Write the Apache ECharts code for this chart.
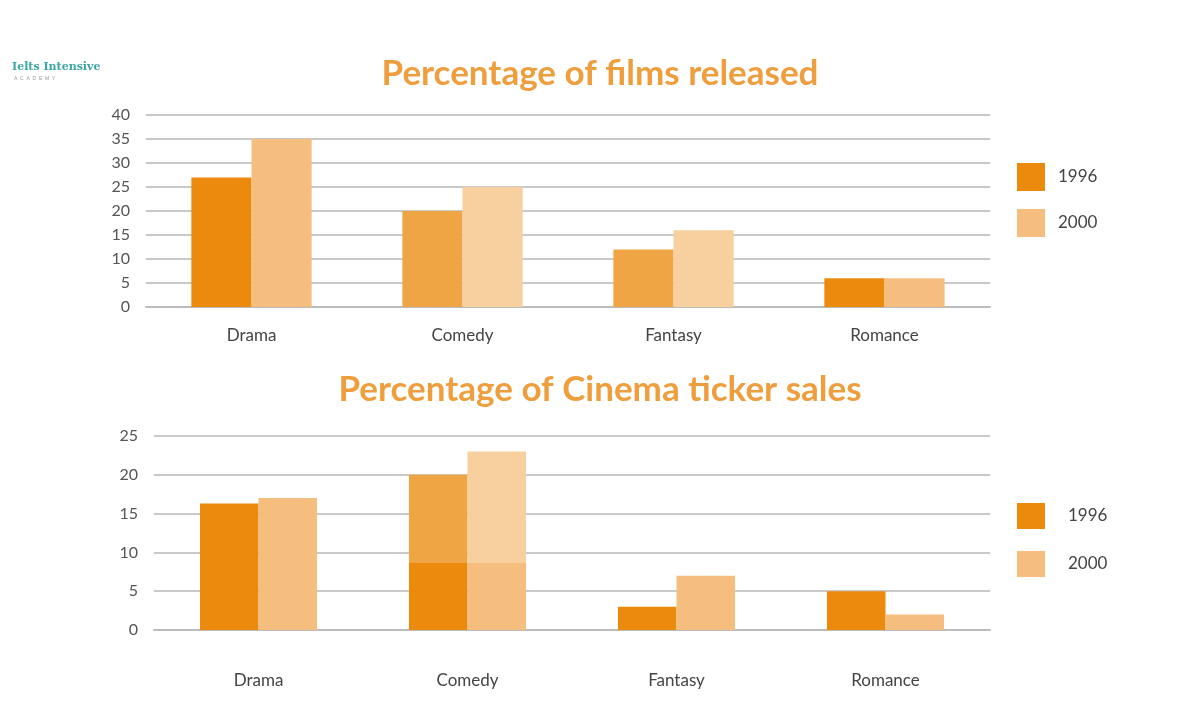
<!DOCTYPE html>
<html><head><meta charset="utf-8">
<script src="https://cdn.jsdelivr.net/npm/echarts@6/dist/echarts.min.js"></script>
<style>html,body{margin:0;padding:0;background:#fff}#c{width:1200px;height:720px}</style>
</head><body><div id="c"></div>
<script>
const categories = ['Drama', 'Comedy', 'Fantasy', 'Romance'];
const films1996 = [27, 20, 12, 6];
const films2000 = [35, 25, 16, 6];
const sales1996 = [16.3, 20, 3, 5];
const sales2000 = [17, 23, 7, 2];
const filmsTicks = [0, 40, 5];
const salesTicks = [0, 25, 5];
const seriesNames = ['1996', '2000'];

const C96 = '#EB8A0C', C00 = '#F5BD7E', C96L = '#EFA544', C00L = '#F8CF9E';
const font = 'Lato, "Open Sans", sans-serif';

function split(light, dark, frac) {
  return {type:'linear', x:0, y:0, x2:0, y2:1, colorStops:[
    {offset:0, color:light},{offset:frac, color:light},{offset:frac, color:dark},{offset:1, color:dark}]};
}
const topCol96 = [C96, C96L, C96L, C96];
const topCol00 = [C00, C00L, C00L, C00];
const botCol96 = [C96, split(C96L, C96, 1 - 8.6/20), C96, C96];
const botCol00 = [C00, split(C00L, C00, 1 - 8.6/23), C00, C00];

function mk(vals, cols) { return vals.map((v,i)=>({value:v, itemStyle:{color:cols[i]}})); }

const chart = echarts.init(document.getElementById('c'));
const yAxisBase = (ticks, gi) => ({
  type:'value', gridIndex:gi, min:ticks[0], max:ticks[1], interval:ticks[2],
  axisLine:{show:false}, axisTick:{show:false},
  axisLabel:{color:'#555', fontSize:16, fontFamily:font, margin:16},
  splitLine:{lineStyle:{color:'#c9c9c9', width:2}}
});
const xAxisBase = (gi, margin) => ({
  type:'category', gridIndex:gi, data:categories,
  axisLine:{lineStyle:{color:'#bbb', width:2}}, axisTick:{show:false},
  axisLabel:{color:'#444', fontSize:17, fontFamily:font, margin:margin}
});
const legendBase = (top, h, gap, pad) => ({
  data:seriesNames, orient:'vertical', left:1012, top:top, itemWidth:28, itemHeight:h, itemGap:gap,
  icon:'rect', textStyle:{color:'#444', fontSize:17, fontFamily:font, padding:[0,0,0,pad]}
});

chart.setOption({
  animation:false,
  title:[
    {text:'Percentage of films released', left:'center', top:51,
     textStyle:{color:'#EF9E3E', fontSize:35, fontWeight:'bold', fontFamily:font}},
    {text:'Percentage of Cinema ticker sales', left:'center', top:367,
     textStyle:{color:'#EF9E3E', fontSize:35, fontWeight:'bold', fontFamily:font}}
  ],
  legend:[legendBase(158, 28, 18, 8), legendBase(498, 26, 22, 18)],
  grid:[
    {left:146, right:210, top:115, height:192},
    {left:154, right:210, top:436, height:194}
  ],
  xAxis:[xAxisBase(0, 20), xAxisBase(1, 42)],
  yAxis:[yAxisBase(filmsTicks, 0), yAxisBase(salesTicks, 1)],
  graphic:[
    {type:'text', left:12, top:62, style:{text:'Ielts Intensive', fill:'#3aa6a3', font:'bold 11px "DejaVu Serif", serif'}},
    {type:'text', left:14, top:76, style:{text:'A  C  A  D  E  M  Y', fill:'#999', font:'5px sans-serif'}}
  ],
  series:[
    {name:'1996', type:'bar', xAxisIndex:0, yAxisIndex:0, barWidth:'28.5%', barGap:'0%',
     itemStyle:{color:C96}, data:mk(films1996, topCol96)},
    {name:'2000', type:'bar', xAxisIndex:0, yAxisIndex:0, barWidth:'28.5%', barGap:'0%',
     itemStyle:{color:C00}, data:mk(films2000, topCol00)},
    {name:'1996', type:'bar', xAxisIndex:1, yAxisIndex:1, barWidth:'28%', barGap:'0%',
     itemStyle:{color:C96}, data:mk(sales1996, botCol96)},
    {name:'2000', type:'bar', xAxisIndex:1, yAxisIndex:1, barWidth:'28%', barGap:'0%',
     itemStyle:{color:C00}, data:mk(sales2000, botCol00)}
  ]
});
</script></body></html>
